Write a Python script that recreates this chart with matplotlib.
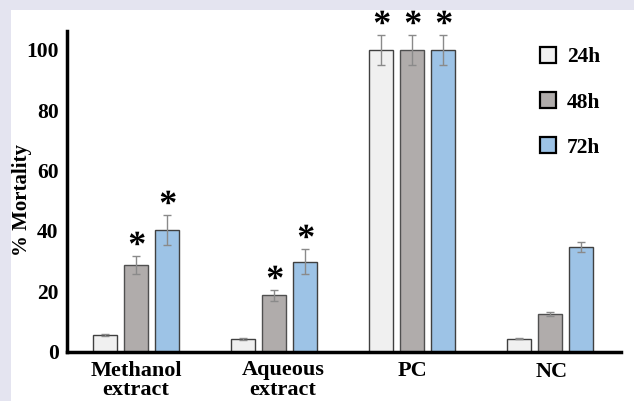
import matplotlib
matplotlib.use("Agg")
import matplotlib.pyplot as plt
import numpy as np
from matplotlib.patches import Rectangle, Patch
from matplotlib.textpath import TextPath
from matplotlib.font_manager import FontProperties
from matplotlib.path import Path

# ---- data ----
categories = ["Methanol\nextract", "Aqueous\nextract", "PC", "NC"]
series_names = ["24h", "48h", "72h"]
mort_24h = [5.6, 4.1, 100, 4.2]
mort_48h = [28.8, 18.6, 100, 12.4]
mort_72h = [40.4, 29.8, 100, 34.6]
err_24h = [0.3, 0.3, 5.0, 0.2]
err_48h = [3.0, 1.8, 5.0, 0.6]
err_72h = [5.0, 4.2, 5.0, 1.7]
star_24h = [False, False, True, False]
star_48h = [True, True, True, False]
star_72h = [True, True, True, False]
yticks = [0, 20, 40, 60, 80, 100]

# ---- style ----
colors = ["#f0f0f0", "#b0acab", "#9dc3e6"]
edgecols = ["#404040", "#505050", "#404040"]
serif = "Liberation Serif"
plt.rcParams["font.family"] = [serif, "DejaVu Serif"]

W, H = 634, 401
fig = plt.figure(figsize=(W / 100, H / 100), dpi=100)
fig.patch.set_facecolor("#e4e4f0")
fig.patches.append(Rectangle((11 / W, 0), 1 - 11 / W, 1 - 10 / H,
                             transform=fig.transFigure, facecolor="white",
                             edgecolor="none", zorder=-10))

ax_left, ax_right, ax_top, ax_bot = 67, 621, 31, 351.5
ax = fig.add_axes([ax_left / W, 1 - ax_bot / H, (ax_right - ax_left) / W,
                   (ax_bot - ax_top) / H])
ax.set_facecolor("none")

x = np.arange(len(categories))
offsets = [-0.225, 0.0, 0.225]
width = 0.178
vals = [mort_24h, mort_48h, mort_72h]
errs = [err_24h, err_48h, err_72h]
stars = [star_24h, star_48h, star_72h]

# asterisk marker path
tp = TextPath((0, 0), "*", prop=FontProperties(family=serif, weight="bold"))
verts = tp.vertices.copy()
mn, mx = verts.min(axis=0), verts.max(axis=0)
verts = verts - (mn + mx) / 2
star_path = Path(verts, tp.codes)

for i in range(3):
    ax.bar(x + offsets[i], vals[i], width, color=colors[i],
           edgecolor=edgecols[i], linewidth=1.0, zorder=2, label=series_names[i])
    ax.errorbar(x + offsets[i], vals[i], yerr=errs[i], fmt="none",
                ecolor="#8a8a8a", elinewidth=1.0, capsize=3, capthick=1.0,
                zorder=3)
    sx = [xx + offsets[i] for xx, s in zip(x, stars[i]) if s]
    sy = [v + e + 4.3 for v, e, s in zip(vals[i], errs[i], stars[i]) if s]
    ax.plot(sx, sy, linestyle="none", marker=star_path, markersize=17,
            color="black", markeredgewidth=0, zorder=4, clip_on=False)

ax.set_xlim(-0.5, 3.514)
ax.set_ylim(0, 106.3)
ax.set_yticks(yticks)
ax.set_yticklabels([str(t) for t in yticks], fontsize=15.5, fontweight="bold")
ax.tick_params(axis="y", length=0, pad=6)
ax.set_xticks([])
for s in ["top", "right"]:
    ax.spines[s].set_visible(False)
ax.spines["left"].set_linewidth(2.5)
ax.spines["bottom"].set_linewidth(2.5)

# category labels
label_x = [0.0, 1.065, 2.0, 3.01]
label_base = [376, 375, 376, 377]
label_gap = [19, 20, 20, 20]
trans = ax.get_xaxis_transform()
for cx, lab, yb, gap in zip(label_x, categories, label_base, label_gap):
    for k, line in enumerate(lab.split("\n")):
        ypx = yb + gap * k
        ax.text(cx, -(ypx - ax_bot) / (ax_bot - ax_top), line, transform=trans,
                ha="center", va="baseline", fontsize=16, fontweight="bold",
                clip_on=False)

fig.text(22 / W, 1 - 200 / H, "% Mortality", rotation=90, ha="center",
         va="center", fontsize=15, fontweight="bold")

handles = [Patch(facecolor=colors[i], edgecolor="black", linewidth=1.6)
           for i in range(3)]
leg = ax.legend(handles, series_names, loc="upper left",
                bbox_to_anchor=((540 - ax_left) / (ax_right - ax_left),
                                (ax_bot - 47) / (ax_bot - ax_top)),
                frameon=False, prop=dict(family=serif, weight="bold", size=15.5),
                handlelength=0.75, handleheight=0.75, handletextpad=0.5,
                labelspacing=1.15, borderaxespad=0, borderpad=0)

fig.savefig("out.png", dpi=100, facecolor=fig.get_facecolor())
